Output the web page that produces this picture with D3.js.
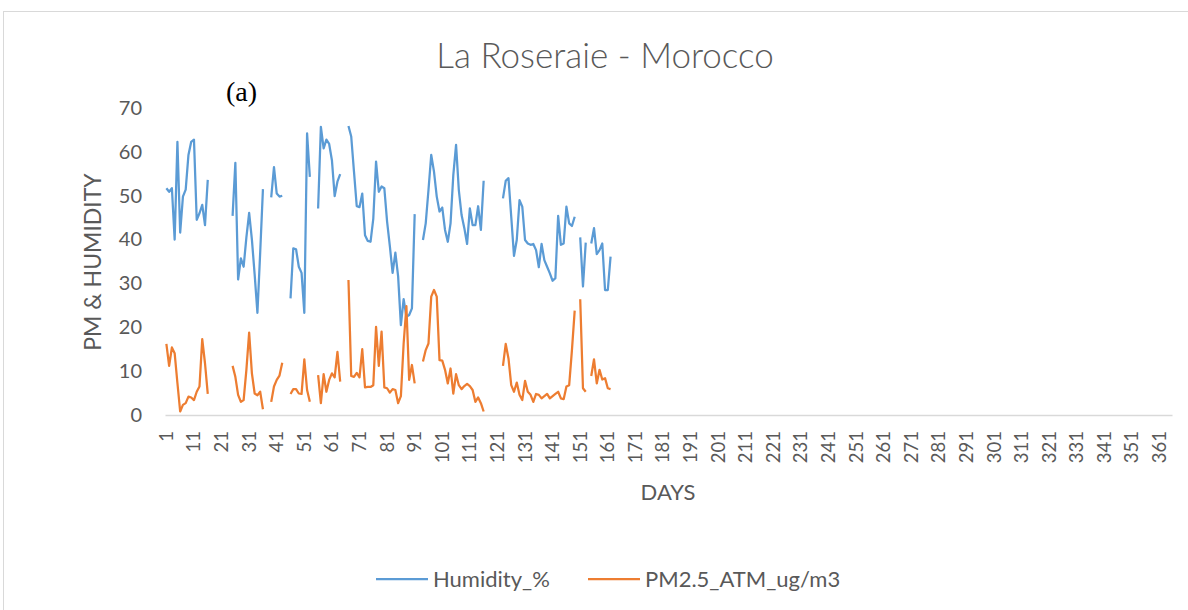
<!DOCTYPE html>
<html lang="en">
<head>
    <meta charset="UTF-8">
    <title>La Roseraie - Morocco</title>
    <style>
        body {
            margin: 0;
            background-color: #ffffff;
        }
        text {
            font-family: Lato, "Open Sans", sans-serif;
            fill: #595959;
        }
        .axis path {
            stroke: #d9d9d9;
            stroke-width: 1.5;
        }
    </style>
    <script src="https://cdn.jsdelivr.net/npm/d3@7"></script>
</head>
<body>
<div id="chart"></div>

<script>
    // days of the year (category axis), labelled every 10 days
    var days = d3.range(1, 366);
    var dayTicks = days.filter(function (d) { return (d - 1) % 10 === 0; });
    var yTicks = [0, 10, 20, 30, 40, 50, 60, 70];

    // Humidity_% , day 1 .. 162 (null = no record)
    var humidity = [
        51.7, 50.9, 51.7, 40.0, 62.3, 41.6, 49.8, 51.4, 59.3, 62.3,
        62.8, 44.5, 46.0, 47.9, 43.3, 53.6, null, null, null, null,
        null, null, null, null, 45.4, 57.5, 30.9, 35.7, 33.8, 40.5,
        46.1, 40.0, 32.0, 23.3, 37.0, 51.5, null, null, 49.6, 56.5,
        50.5, 49.8, 50.0, null, null, 26.6, 38.0, 37.8, 33.8, 32.4,
        23.3, 64.2, 54.3, null, null, 47.1, 65.7, 60.8, 62.8, 61.8,
        58.1, 49.9, 53.2, 54.9, null, null, 65.9, 63.5, 55.5, 47.6,
        47.4, 50.5, 41.0, 39.7, 39.5, 44.8, 57.8, 50.9, 52.1, 51.7,
        44.1, 38.5, 32.4, 37.0, 31.6, 20.5, 26.4, 22.4, 22.8, 24.3,
        45.8, null, null, 39.9, 43.7, 51.3, 59.3, 55.5, 49.8, 46.4,
        47.3, 42.2, 39.5, 43.7, 54.7, 61.6, 51.3, 45.6, 42.6, 39.0,
        47.1, 43.3, 43.3, 47.6, 42.2, 53.4, null, null, null, null,
        null, null, 49.4, 53.4, 54.0, 45.2, 36.3, 39.9, 49.0, 47.5,
        39.9, 39.1, 38.8, 39.0, 37.6, 33.7, 39.0, 35.3, 33.8, 32.3,
        30.6, 31.2, 45.4, 38.8, 39.1, 47.5, 43.7, 43.1, 45.2, null,
        40.5, 29.3, 39.3, null, 39.1, 42.6, 36.7, 37.6, 39.1, 28.5,
        28.5, 36.1
    ];

    // PM2.5_ATM_ug/m3 , day 1 .. 162
    var pm25 = [
        16.2, 11.2, 15.4, 14.1, 7.3, 0.8, 2.3, 2.7, 4.2, 4.0,
        3.4, 5.3, 6.5, 17.3, 11.8, 4.8, null, null, null, null,
        null, null, null, null, 11.2, 8.7, 4.6, 3.0, 3.4, 10.3,
        18.8, 9.5, 4.9, 4.5, 5.3, 1.3, null, null, 3.0, 6.5,
        8.0, 9.0, 11.9, null, null, 4.8, 5.9, 5.9, 4.9, 4.8,
        12.7, 5.7, 3.0, null, null, 9.1, 2.7, 9.3, 5.3, 8.0,
        9.5, 8.6, 14.4, 7.6, null, null, 30.8, 8.9, 8.7, 9.6,
        8.6, 15.0, 6.3, 6.4, 6.4, 6.8, 20.1, 11.2, 19.0, 6.3,
        6.1, 5.1, 5.9, 5.7, 2.7, 4.3, 16.3, 24.8, 8.0, 11.4,
        7.2, null, null, 12.2, 14.8, 16.3, 27.0, 28.5, 27.0, 12.5,
        12.4, 10.3, 7.2, 10.6, 4.9, 9.3, 6.8, 5.9, 6.6, 7.1,
        6.6, 5.7, 3.0, 4.0, 2.7, 0.8, null, null, null, null,
        null, null, 11.2, 16.2, 12.9, 6.8, 5.3, 7.4, 4.6, 3.4,
        7.8, 5.3, 4.6, 3.0, 4.8, 4.6, 3.8, 4.3, 4.8, 3.8,
        4.3, 4.8, 5.3, 3.8, 3.6, 6.5, 6.8, 14.8, 23.8, null,
        26.4, 6.1, 5.3, null, 8.9, 12.7, 7.2, 10.3, 8.1, 8.4,
        6.1, 5.9
    ];

    var seriesNames = ["Humidity_%", "PM2.5_ATM_ug/m3"];
    var seriesColors = ["#5b9bd5", "#ed7d31"];

    var width = 1188, height = 610;
    var margin = {top: 108, right: 16, bottom: 195, left: 165};

    var svg = d3.select("#chart")
        .append("svg")
        .attr("width", width)
        .attr("height", height);

    // chart area border
    svg.append("rect")
        .attr("x", 3.5)
        .attr("y", 11.5)
        .attr("width", width)
        .attr("height", height)
        .style("fill", "none")
        .style("stroke", "#d9d9d9");

    var x = d3.scaleBand()
        .domain(days)
        .range([margin.left, width - margin.right]);

    var y = d3.scaleLinear()
        .domain([0, 70])
        .range([height - margin.bottom, margin.top]);

    // y axis (labels only)
    svg.append("g")
        .attr("class", "y axis")
        .attr("transform", "translate(" + margin.left + ",0)")
        .call(d3.axisLeft(y).tickValues(yTicks).tickSize(0).tickPadding(23))
        .call(function (g) { g.select(".domain").remove(); })
        .selectAll("text")
        .style("font-size", "20px")
        .style("font-family", "Lato, sans-serif")
        .attr("fill", "#595959");

    // x axis
    var xAxis = svg.append("g")
        .attr("class", "x axis")
        .attr("transform", "translate(0," + (height - margin.bottom) + ")")
        .call(d3.axisBottom(x).tickValues(dayTicks).tickSize(0));

    xAxis.selectAll("text")
        .attr("transform", "rotate(-90)")
        .attr("x", -16)
        .attr("y", 0)
        .attr("dy", "0.35em")
        .style("text-anchor", "end")
        .style("font-size", "18.5px")
        .style("font-family", "Lato, sans-serif")
        .attr("fill", "#595959");

    // lines, gaps where there is no record
    var line = d3.line()
        .defined(function (d) { return d[1] !== null && d[1] !== undefined; })
        .x(function (d) { return x(d[0]) + x.bandwidth() / 2; })
        .y(function (d) { return y(d[1]); });

    [humidity, pm25].forEach(function (values, i) {
        var pts = days.map(function (d, j) { return [d, values[j]]; });
        svg.append("path")
            .datum(pts)
            .attr("d", line)
            .style("fill", "none")
            .style("stroke", seriesColors[i])
            .style("stroke-width", 2.25)
            .style("stroke-linejoin", "round");
    });

    // titles
    svg.append("text")
        .attr("x", 605)
        .attr("y", 68)
        .attr("text-anchor", "middle")
        .style("font-size", "35px")
        .style("font-weight", 300)
        .text("La Roseraie - Morocco");

    svg.append("text")
        .attr("x", 226)
        .attr("y", 101)
        .style("font-family", "'Liberation Serif', serif")
        .style("font-size", "28px")
        .style("fill", "#000")
        .text("(a)");

    svg.append("text")
        .attr("transform", "translate(101,262) rotate(-90)")
        .attr("text-anchor", "middle")
        .style("font-size", "23px")
        .text("PM & HUMIDITY");

    svg.append("text")
        .attr("x", 668)
        .attr("y", 500)
        .attr("text-anchor", "middle")
        .style("font-size", "22px")
        .text("DAYS");

    // legend
    var legendX = [376, 588];
    var legend = svg.selectAll(".legend")
        .data(seriesNames)
        .enter().append("g")
        .attr("class", "legend")
        .attr("transform", function (d, i) { return "translate(" + legendX[i] + ",579)"; });

    legend.append("line")
        .attr("x1", 0)
        .attr("x2", 52)
        .style("stroke", function (d, i) { return seriesColors[i]; })
        .style("stroke-width", 2.25);

    legend.append("text")
        .attr("x", 57)
        .attr("dy", "0.35em")
        .style("font-size", "22px")
        .text(function (d) { return d; });
</script>
</body>
</html>
